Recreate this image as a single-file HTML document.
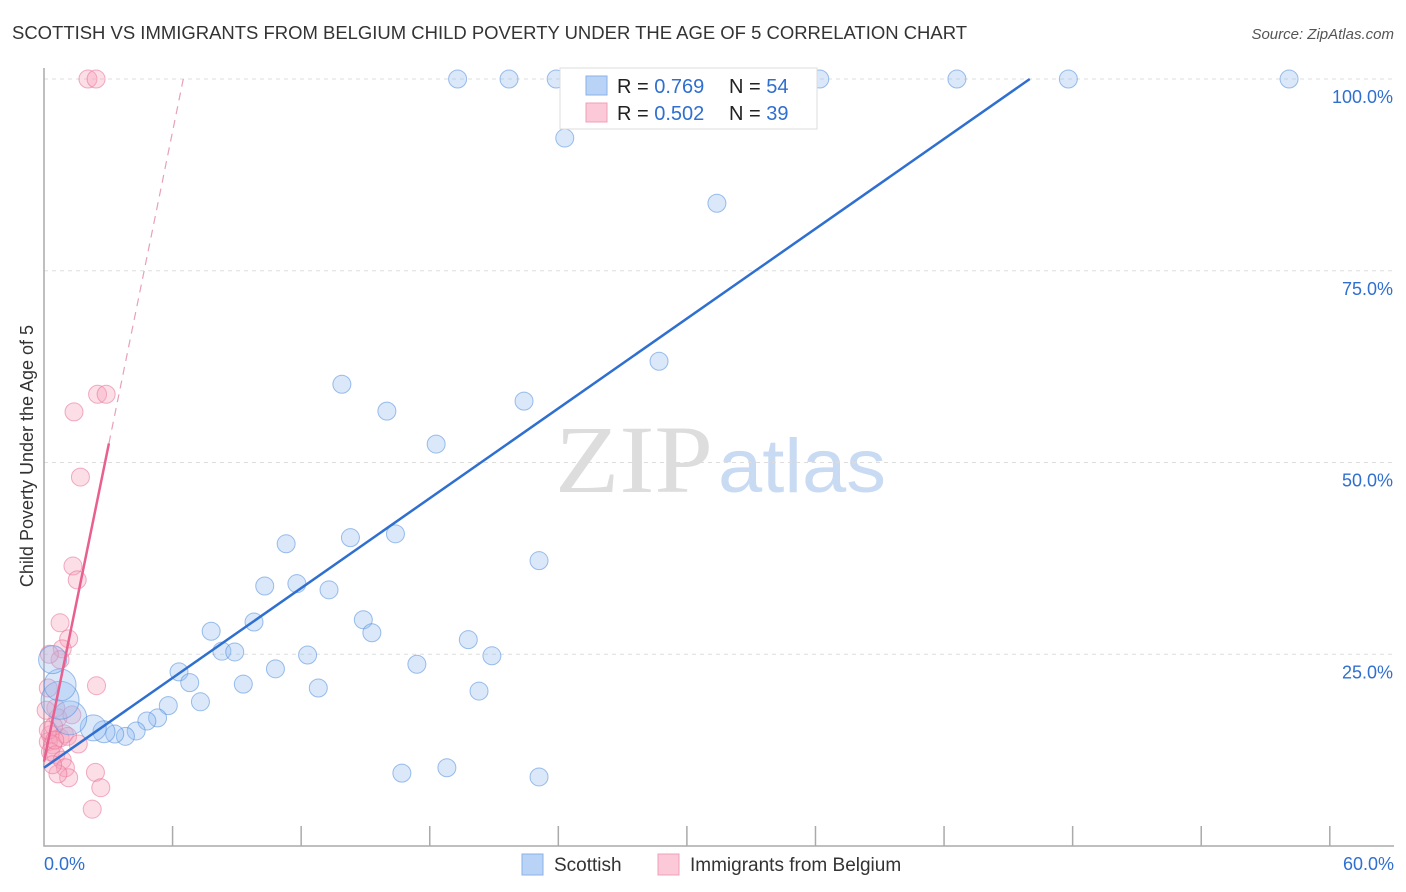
<!DOCTYPE html>
<html><head><meta charset="utf-8"><style>
body{margin:0;background:#fff;font-family:"Liberation Sans",sans-serif;}
svg{display:block}
</style></head><body>
<svg id="c" width="1406" height="892">
<text x="12" y="39" font-size="18" fill="#333" textLength="955" lengthAdjust="spacingAndGlyphs">SCOTTISH VS IMMIGRANTS FROM BELGIUM CHILD POVERTY UNDER THE AGE OF 5 CORRELATION CHART</text>
<text x="1394" y="39" font-size="15" fill="#555" font-style="italic" text-anchor="end">Source: ZipAtlas.com</text>
<text transform="translate(33,456) rotate(-90)" font-size="18" fill="#333" text-anchor="middle">Child Poverty Under the Age of 5</text>
<text x="555" y="492" font-size="96" fill="#ddd" font-family="Liberation Serif,serif" textLength="158" lengthAdjust="spacingAndGlyphs">ZIP</text>
<text x="718" y="492" font-size="76" fill="#c9daf3" textLength="168" lengthAdjust="spacingAndGlyphs">atlas</text>
<g id="grid"></g><g id="pts"></g><g id="lines"></g>
<g>
<rect x="560" y="68" width="257" height="61" fill="#fff" stroke="#ddd"/>
<rect x="586" y="76" width="21" height="19" fill="#b9d3f7" stroke="#8ab1e8"/>
<rect x="586" y="103" width="21" height="19" fill="#fbc9d8" stroke="#f0a0b8"/>
<text x="617" y="93" font-size="20" fill="#222">R = <tspan fill="#2f6fd0">0.769</tspan></text>
<text x="729" y="93" font-size="20" fill="#222">N = <tspan fill="#2f6fd0">54</tspan></text>
<text x="617" y="120" font-size="20" fill="#222">R = <tspan fill="#2f6fd0">0.502</tspan></text>
<text x="729" y="120" font-size="20" fill="#222">N = <tspan fill="#2f6fd0">39</tspan></text>
</g>
<g>
<rect x="522" y="854" width="21" height="21" fill="#b9d3f7" stroke="#8ab1e8"/>
<text x="554" y="871" font-size="19" fill="#333">Scottish</text>
<rect x="658" y="854" width="21" height="21" fill="#fbc9d8" stroke="#f0a0b8"/>
<text x="690" y="871" font-size="19" fill="#333">Immigrants from Belgium</text>
</g>
</svg>
<script>
const xTicks=[0,6,12,18,24,30,36,42,48,54,60];
const yTicks=[25,50,75,100];
const blueX=[19.3,21.7,23.9,27.3,36.2,42.6,47.8,58.1,24.3,31.4,28.7,13.9,16.0,22.4,18.3,11.3,14.3,16.4,23.1,10.3,11.8,13.3,14.9,15.3,7.8,9.8,8.3,8.9,12.3,19.8,20.9,17.4,10.8,6.3,6.8,9.3,12.8,20.3,7.3,5.8,5.3,4.8,4.3,3.8,3.3,2.8,2.3,1.2,0.75,0.75,0.4,16.7,18.8,23.1];
const blueY=[100,100,100,100,100,100,100,100,92.3,83.8,63.2,60.2,56.7,58.0,52.4,39.4,40.2,40.7,37.2,33.9,34.2,33.4,29.5,27.8,28.0,29.2,25.4,25.3,24.9,26.9,24.8,23.7,23.1,22.7,21.3,21.1,20.6,20.2,18.8,18.3,16.7,16.3,15.0,14.3,14.6,14.9,15.4,16.7,19.0,21.0,24.3,9.5,10.2,9.0];
const blueR=[9,9,9,9,9,9,9,9,9,9,9,9,9,9,9,9,9,9,9,9,9,9,9,9,9,9,9,9,9,9,9,9,9,9,9,9,9,9,9,9,9,9,9,9,9,11,13,17,19,16,14,9,9,9];
const pinkX=[2.05,2.43,1.4,2.5,2.9,1.7,1.35,1.55,0.75,1.15,0.85,0.75,0.25,2.45,0.2,0.55,0.65,1.3,0.3,0.75,0.95,1.1,0.2,0.4,1.6,0.3,0.55,0.85,1.0,2.4,1.15,0.65,2.65,2.25,0.1,0.45,0.2,0.4,0.5];
const pinkY=[100,100,56.6,58.9,58.9,48.1,36.5,34.7,29.1,27.0,25.7,24.3,25.0,20.9,20.6,18.0,16.7,17.1,14.5,14.1,14.6,14.3,13.6,13.2,13.3,12.3,11.9,11.2,10.2,9.6,8.9,9.4,7.6,4.8,17.7,15.6,15.1,10.6,13.8];
const blueLine=[[0,10.2],[46,100]];
const pinkSolid=[[0,11],[3.03,52.5]];
const pinkDash=[[3.03,52.5],[6.5,100]];
const X=v=>44+v*21.43, Y=v=>846-v*7.67;
const NS="http://www.w3.org/2000/svg";
function mk(p,t,a){const e=document.createElementNS(NS,t);for(const k in a)e.setAttribute(k,a[k]);p.appendChild(e);return e;}
const svg=document.getElementById('c'),grid=document.getElementById('grid'),pts=document.getElementById('pts'),lines=document.getElementById('lines');
yTicks.forEach(v=>{const l=mk(grid,'line',{x1:44,x2:1394,y1:Y(v),y2:Y(v),stroke:'#ddd','stroke-dasharray':'4,4'});


const t=mk(svg,'text',{x:1393,y:Y(v)+24,'font-size':18,fill:'#2f6fd0','text-anchor':'end'});t.textContent=v.toFixed(1)+'%';

});
const ax=mk(grid,'path',{d:'M44,68 V846 H1394',fill:'none',stroke:'#aaa','stroke-width':1.5});


xTicks.forEach((v,i)=>{if(i==0)return;const l=mk(grid,'line',{x1:X(v),x2:X(v),y1:826,y2:846,stroke:'#aaa','stroke-width':1.5});

});
[[0,'start',44],[60,'end',1394]].forEach(([v,a,x])=>{const t=mk(svg,'text',{x:x,y:870,'font-size':18,fill:'#2f6fd0','text-anchor':a});t.textContent=v.toFixed(1)+'%';

});
pinkX.forEach((x,i)=>{const c=mk(pts,'circle',{cx:X(x),cy:Y(pinkY[i]),r:9,fill:'rgba(246,160,185,0.35)',stroke:'rgba(232,110,150,0.55)'});

});
blueX.forEach((x,i)=>{const c=mk(pts,'circle',{cx:X(x),cy:Y(blueY[i]),r:blueR[i],fill:'rgba(150,190,240,0.35)',stroke:'rgba(80,140,220,0.55)'});

});
const b=mk(lines,'line',{x1:X(blueLine[0][0]),y1:Y(blueLine[0][1]),x2:X(blueLine[1][0]),y2:Y(blueLine[1][1]),stroke:'#2f6fd0','stroke-width':2.5});


const p=mk(lines,'line',{x1:X(pinkSolid[0][0]),y1:Y(pinkSolid[0][1]),x2:X(pinkSolid[1][0]),y2:Y(pinkSolid[1][1]),stroke:'#e8608f','stroke-width':2.5});


const pd=mk(lines,'line',{x1:X(pinkDash[0][0]),y1:Y(pinkDash[0][1]),x2:X(pinkDash[1][0]),y2:Y(pinkDash[1][1]),stroke:'#e8a0b8','stroke-width':1.2,'stroke-dasharray':'8,6'});


</script>
</body></html>
